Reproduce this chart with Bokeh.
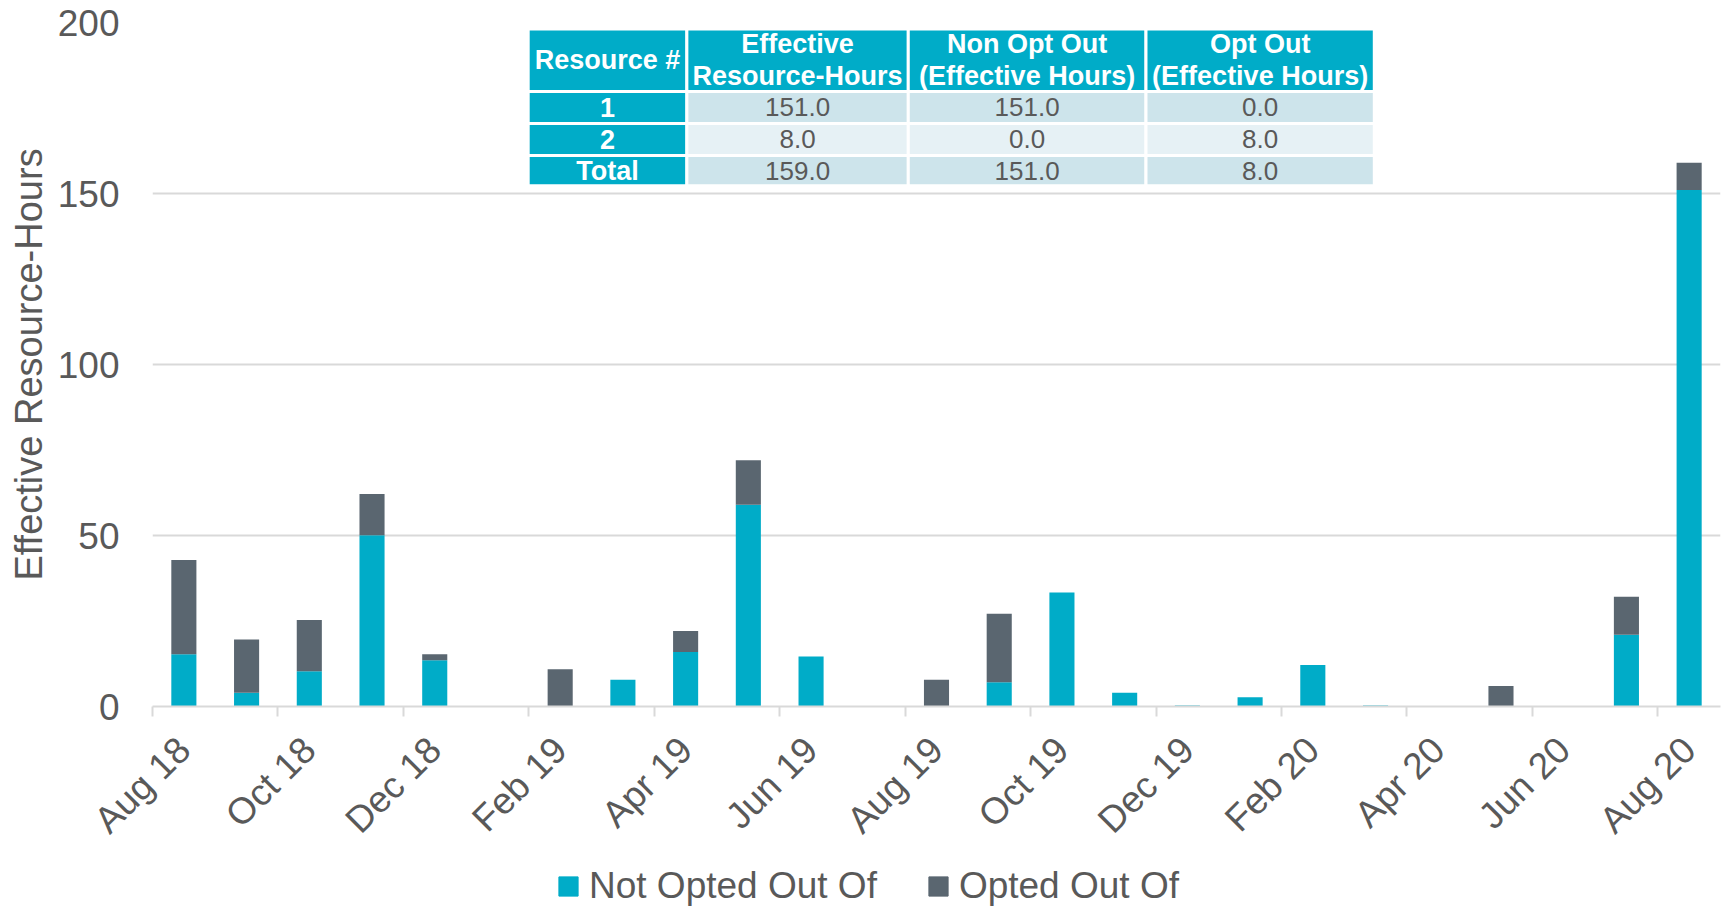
import math
from bokeh.plotting import figure
from bokeh.layouts import column
from bokeh.models import Range1d, FixedTicker, Legend, LegendItem, ColumnDataSource
from bokeh.core.properties import value
from bokeh.embed import file_html
from bokeh.resources import INLINE

# ---------------- data ----------------
months = ["Aug 18", "Sep 18", "Oct 18", "Nov 18", "Dec 18", "Jan 19", "Feb 19",
          "Mar 19", "Apr 19", "May 19", "Jun 19", "Jul 19", "Aug 19", "Sep 19",
          "Oct 19", "Nov 19", "Dec 19", "Jan 20", "Feb 20", "Mar 20", "Apr 20",
          "May 20", "Jun 20", "Jul 20", "Aug 20"]
not_opted = [15.3, 4.0, 10.3, 50.1, 13.5, 0.0, 0.0, 7.8, 15.9, 59.0, 14.6, 0.0, 0.0,
             7.1, 33.3, 4.0, 0.3, 2.7, 12.1, 0.3, 0.0, 0.0, 0.0, 21.0, 151.0]
opted = [27.5, 15.6, 15.0, 12.0, 1.8, 0.0, 10.9, 0.0, 6.2, 13.0, 0.0, 0.0, 7.8,
         20.0, 0.0, 0.0, 0.0, 0.0, 0.0, 0.0, 0.0, 6.0, 0.0, 11.1, 8.0]
series_names = ["Not Opted Out Of", "Opted Out Of"]

table_headers = ["Resource #", "Effective\nResource-Hours",
                 "Non Opt Out\n(Effective Hours)", "Opt Out\n(Effective Hours)"]
resource_ids = ["1", "2", "Total"]
effective_hours = [151.0, 8.0, 159.0]
non_opt_hours = [151.0, 0.0, 151.0]
opt_hours = [0.0, 8.0, 8.0]

# ---------------- style ----------------
TEAL = "#00ACC8"
GREY = "#5A6670"
TXT = "#595959"
GRID = "#D9D9D9"
FONT = "Liberation Sans"
ROW_FILLS = ["#CDE4EB", "#E6F1F5", "#CDE4EB"]
W = 1722
FRAME_LEFT = 152

src = ColumnDataSource(dict(x=[i + 0.5 for i in range(len(months))],
                            month=months,
                            not_opted=not_opted, opted=opted))

p = figure(width=W, height=862, x_range=Range1d(0, len(months)),
           y_range=Range1d(0, 200), output_backend="svg", toolbar_location=None,
           min_border_left=FRAME_LEFT, min_border_right=2, min_border_top=22,
           min_border_bottom=156, title=None)
p.outline_line_color = None
p.background_fill_color = "white"
p.border_fill_color = "white"

rs = p.vbar_stack(["not_opted", "opted"], x="x", width=0.4, source=src,
                  color=[TEAL, GREY], line_width=0)

# y axis
p.yaxis.ticker = FixedTicker(ticks=[0, 50, 100, 150, 200], minor_ticks=[])
p.yaxis.axis_line_color = None
p.yaxis.major_tick_line_color = None
p.yaxis.minor_tick_line_color = None
p.yaxis.major_tick_out = 0
p.yaxis.major_tick_in = 0
p.yaxis.major_label_standoff = 33
p.yaxis.major_label_text_font = FONT
p.yaxis.major_label_text_font_size = "37px"
p.yaxis.major_label_text_color = TXT
p.yaxis.axis_label = "Effective Resource-Hours"
p.yaxis.axis_label_text_font = FONT
p.yaxis.axis_label_text_font_size = "38px"
p.yaxis.axis_label_text_font_style = "normal"
p.yaxis.axis_label_text_color = TXT
p.yaxis.axis_label_standoff = 5
p.ygrid.grid_line_color = GRID
p.ygrid.grid_line_width = 2
p.xgrid.grid_line_color = None

# x axis: labels at every second month centre, ticks at month boundaries
label_pos = [i + 0.5 for i in range(0, len(months), 2)]
p.xaxis.ticker = FixedTicker(ticks=label_pos,
                             minor_ticks=list(range(0, len(months) + 1, 2)))
p.xaxis.major_label_overrides = {i + 0.5: months[i] for i in range(0, len(months), 2)}
p.xaxis.major_label_orientation = math.pi / 4
p.xaxis.major_tick_line_color = None
p.xaxis.major_tick_out = 0
p.xaxis.major_tick_in = 0
p.xaxis.minor_tick_line_color = GRID
p.xaxis.minor_tick_line_width = 2
p.xaxis.minor_tick_out = 10
p.xaxis.minor_tick_in = 0
p.xaxis.axis_line_color = GRID
p.xaxis.axis_line_width = 2
p.xaxis.major_label_standoff = 27
p.xaxis.major_label_text_font = FONT
p.xaxis.major_label_text_font_size = "37px"
p.xaxis.major_label_text_color = TXT

# ---------------- table (data coordinates on the plot) ----------------
col_edges = [5.99, 8.52, 12.05, 15.84, 19.48]
row_edges = [198.1, 179.8, 170.5, 161.1, 152.3]

body_vals = [[f"{v:.1f}" for v in col] for col in (effective_hours, non_opt_hours, opt_hours)]

ql, qr, qt, qb, qc = [], [], [], [], []
for r in range(4):
    for c in range(4):
        ql.append(col_edges[c]); qr.append(col_edges[c + 1])
        qt.append(row_edges[r]); qb.append(row_edges[r + 1])
        qc.append(TEAL if (r == 0 or c == 0) else ROW_FILLS[r - 1])
p.quad(left=ql, right=qr, top=qt, bottom=qb, fill_color=qc,
       line_color="white", line_width=3)

cx = [(col_edges[c] + col_edges[c + 1]) / 2 for c in range(4)]
cy = [(row_edges[r] + row_edges[r + 1]) / 2 for r in range(4)]

bold_x, bold_y, bold_t = [], [], []
for c in range(4):
    bold_x.append(cx[c]); bold_y.append(cy[0]); bold_t.append(table_headers[c])
for r in range(3):
    bold_x.append(cx[0]); bold_y.append(cy[r + 1]); bold_t.append(resource_ids[r])
p.text(x=bold_x, y=bold_y, text=bold_t, text_align="center", text_baseline="middle",
       text_font=value(FONT), text_font_style="bold", text_font_size="27px",
       text_color="white", text_line_height=1.08)

norm_x, norm_y, norm_t = [], [], []
for r in range(3):
    for c in range(3):
        norm_x.append(cx[c + 1]); norm_y.append(cy[r + 1]); norm_t.append(body_vals[c][r])
p.text(x=norm_x, y=norm_y, text=norm_t, text_align="center", text_baseline="middle",
       text_font=value(FONT), text_font_size="26px", text_color=TXT)

# ---------------- legend strip ----------------
lf = figure(width=W, height=45, output_backend="svg", toolbar_location=None,
            min_border=0, x_axis_location=None, y_axis_location=None, title=None,
            x_range=Range1d(0, 1), y_range=Range1d(0, 1))
lf.outline_line_color = None
lf.xgrid.visible = False
lf.ygrid.visible = False
# swatch-only renderers (placed outside the visible range) for the legend keys
swatch = ColumnDataSource(dict(x=[-10.0], top=[0.0]))
lr1 = lf.vbar(x="x", top="top", width=0.1, source=swatch, color=TEAL)
lr2 = lf.vbar(x="x", top="top", width=0.1, source=swatch, color=GREY)
legend = Legend(items=[LegendItem(label=series_names[0], renderers=[lr1]),
                       LegendItem(label=series_names[1], renderers=[lr2])],
                orientation="horizontal", location=(556 - FRAME_LEFT, 0),
                padding=0, margin=0, spacing=49, label_standoff=9,
                glyph_width=24, glyph_height=24,
                border_line_color=None, background_fill_alpha=0,
                label_text_font=FONT, label_text_font_size="37px",
                label_text_color=TXT)
lf.add_layout(legend, "center")

layout = column(p, lf, spacing=0)
open("out.html", "w").write(file_html(layout, INLINE))
